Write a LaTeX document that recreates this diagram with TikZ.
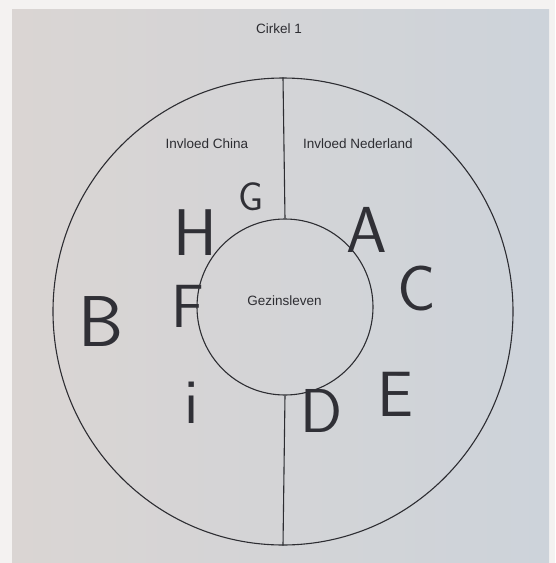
\documentclass[tikz,border=0pt]{standalone}
\usepackage{fontspec}
\setmainfont{Liberation Sans}
\newfontfamily\penfont{lmsans17-regular.otf}
\usetikzlibrary{shapes.geometric}
\definecolor{bgwhite}{RGB}{244,242,241}
\definecolor{paperA}{RGB}{218,213,211}
\definecolor{paperB}{RGB}{205,211,218}
\definecolor{ink}{RGB}{45,45,50}
\definecolor{pen}{RGB}{48,48,54}
\tikzset{
  typed/.style={font=\fontsize{13.5}{16}\selectfont, text=ink, inner sep=0pt},
  hand/.style={text=pen, inner sep=0pt},
  ring/.style={draw=ink, line width=1.1pt, inner sep=0pt},
  divider/.style={draw=ink, line width=1.1pt}
}
\begin{document}
\begin{tikzpicture}[x=1pt,y=-1pt]
\useasboundingbox (0,0) rectangle (555,563);
\fill[bgwhite] (0,0) rectangle (555,563);
\shade[left color=paperA, right color=paperB] (12,9) rectangle (549,563);

\node[typed] (title) at (279,29) {Cirkel 1};

\node[ring, ellipse, minimum width=460pt, minimum height=467pt] (outer) at (283,311.5) {};
\node[ring, circle, minimum size=176pt] (inner) at (285,307) {};
\draw[divider] (outer.north) -- (inner.north);
\draw[divider] (inner.south) -- (outer.south);

\node[typed] (china) at (207,144) {Invloed China};
\node[typed] (nl) at (358,144) {Invloed Nederland};
\node[typed] (gezin) at (284.5,301) {Gezinsleven};

\node[hand, font=\penfont\fontsize{40}{40}\selectfont] (G) at (251,197) {G};
\node[hand, font=\penfont\fontsize{66}{66}\selectfont] (H) at (195,233) {H};
\node[hand, font=\penfont\fontsize{65}{66}\selectfont] (A) at (367,230) {A};
\node[hand, font=\penfont\fontsize{64}{66}\selectfont] (C) at (417,289) {C};
\node[hand, font=\penfont\fontsize{72}{72}\selectfont] (B) at (101,322) {B};
\node[hand, font=\penfont\fontsize{61}{62}\selectfont] (F) at (188,306) {F};
\node[hand, font=\penfont\fontsize{64}{64}\selectfont, anchor=base] (I) at (192,423) {i};
\node[hand, font=\penfont\fontsize{62}{62}\selectfont] (D) at (322,411) {D};
\node[hand, font=\penfont\fontsize{64}{64}\selectfont] (E) at (395,394) {E};
\end{tikzpicture}
\end{document}
